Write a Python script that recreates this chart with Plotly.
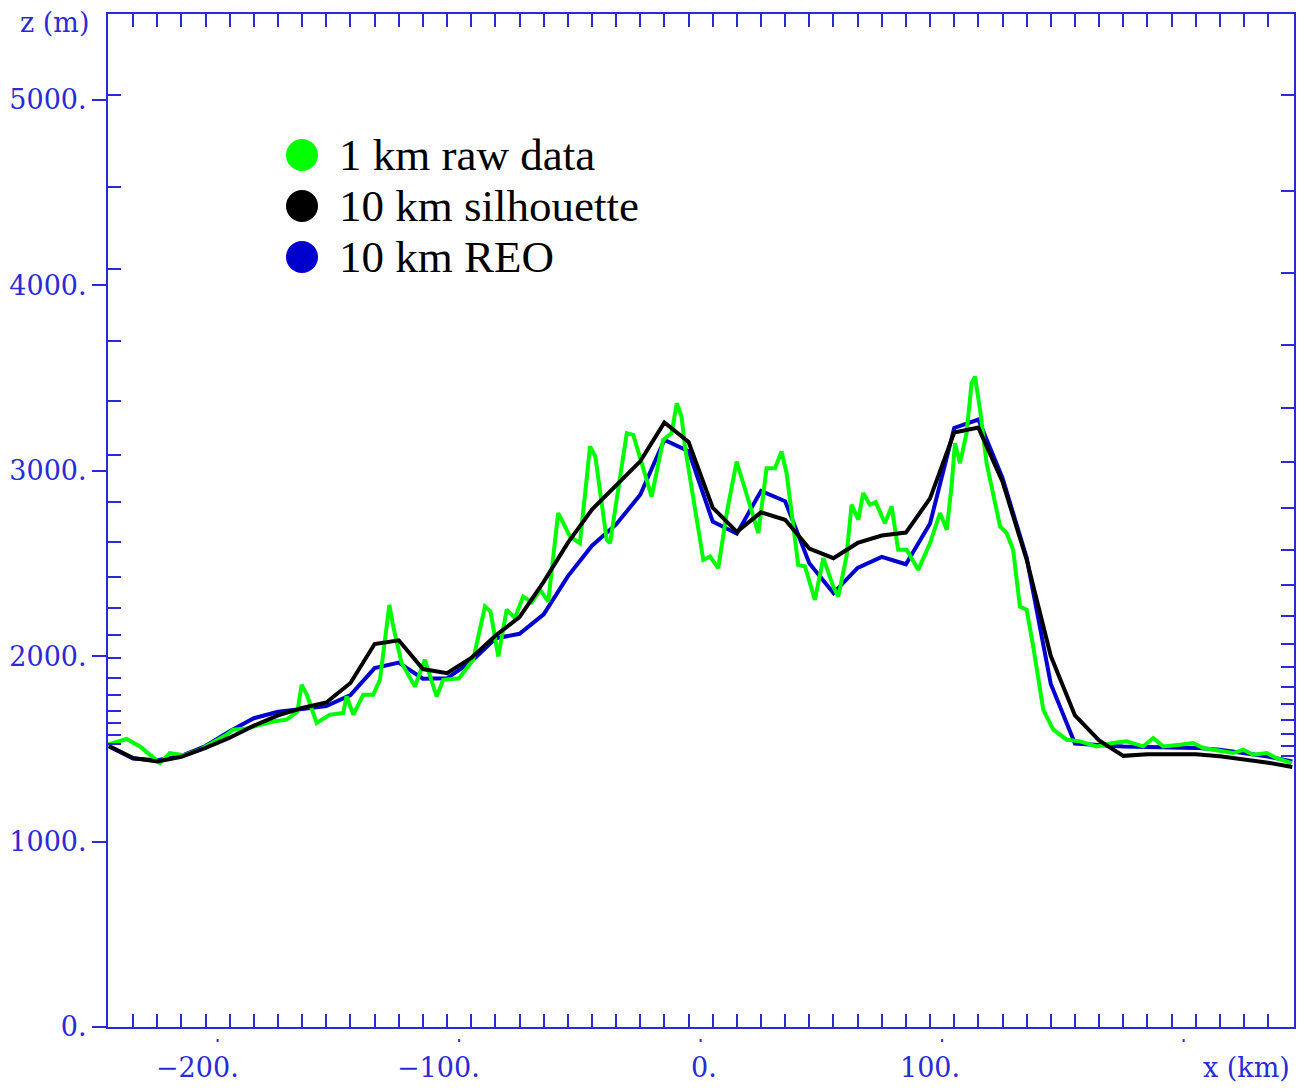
import plotly.graph_objects as go

# ---------------- data ----------------
# 10 km grid (cell centres, km)
x_10km = [-245, -235, -225, -215, -205, -195, -185, -175, -165, -155,
          -145, -135, -125, -115, -105, -95, -85, -75, -65, -55,
          -45, -35, -25, -15, -5, 5, 15, 25, 35, 45,
          55, 65, 75, 85, 95, 105, 115, 125, 135, 145,
          155, 165, 175, 185, 195, 205, 215, 225, 235, 245]

silhouette_z = [1515, 1450, 1432, 1457, 1505, 1560, 1625, 1680, 1720, 1750,
                1855, 2065, 2085, 1930, 1908, 1990, 2110, 2210, 2400, 2610,
                2790, 2920, 3050, 3260, 3155, 2800, 2670, 2775, 2735, 2580,
                2528, 2610, 2650, 2666, 2850, 3205, 3232, 2940, 2520, 2000,
                1680, 1545, 1462, 1470, 1470, 1470, 1460, 1445, 1425, 1402]

reo_z = [1513, 1448, 1438, 1462, 1515, 1595, 1665, 1700, 1715, 1730,
         1790, 1935, 1965, 1878, 1880, 1970, 2095, 2120, 2225, 2430,
         2595, 2710, 2870, 3165, 3105, 2725, 2660, 2890, 2835, 2500,
         2340, 2475, 2535, 2495, 2715, 3230, 3275, 2960, 2530, 1850,
         1528, 1520, 1513, 1510, 1507, 1505, 1495, 1478, 1458, 1432]

# 1 km raw data (at its turning points)
raw_x = [-245.7, -239.7, -237.7, -232.2, -223.9, -219.8, -214.0, -207.3, -196.3, -193.5,
         -188.0, -177.0, -171.4, -167.0, -165.2, -163.0, -159.0, -153.5, -148.0, -146.6,
         -143.8, -139.7, -135.6, -132.8, -128.9, -127.3, -123.8, -118.3, -114.2, -109.3,
         -106.6, -100.0, -94.2, -89.3, -87.0, -83.8, -80.3, -76.9, -73.5, -70.0,
         -66.5, -63.1, -59.0, -54.1, -50.0, -45.8, -43.6, -38.9, -37.5, -30.6,
         -27.9, -20.3, -15.5, -12.0, -9.9, -7.9, -6.5, 1.1, 3.9, 7.3,
         10.8, 14.9, 19.0, 23.9, 27.3, 30.8, 33.5, 35.6, 40.4, 43.2,
         47.3, 50.8, 54.9, 57.0, 60.4, 62.5, 65.3, 67.3, 70.1, 72.5,
         76.3, 79.1, 81.8, 85.3, 90.1, 95.0, 99.1, 101.9, 103.9, 105.3,
         107.4, 110.1, 112.2, 113.6, 115.7, 118.4, 124.0, 126.7, 129.4, 132.2,
         135.0, 137.7, 141.9, 146.0, 151.6, 157.1, 164.0, 170.8, 176.4, 183.3,
         187.4, 191.5, 198.5, 204.0, 208.1, 212.3, 220.5, 224.7, 228.8, 234.4,
         238.5, 244.7]
raw_z = [1522, 1549, 1553, 1513, 1423, 1477, 1465, 1495, 1576, 1603,
         1610, 1647, 1657, 1700, 1845, 1790, 1639, 1684, 1693, 1782,
         1684, 1791, 1791, 1872, 2276, 2160, 1962, 1836, 1980, 1782,
         1872, 1880, 1980, 2267, 2240, 1998, 2250, 2205, 2321, 2290,
         2357, 2294, 2771, 2645, 2609, 3130, 3076, 2627, 2609, 3202,
         3193, 2860, 3166, 3202, 3363, 3292, 3130, 2519, 2537, 2474,
         2771, 3049, 2870, 2663, 3013, 3013, 3103, 2986, 2492, 2483,
         2303, 2528, 2375, 2321, 2537, 2816, 2735, 2879, 2816, 2830,
         2717, 2806, 2573, 2573, 2465, 2609, 2771, 2681, 2914, 3148,
         3040, 3202, 3472, 3507, 3328, 3040, 2699, 2663, 2573, 2267,
         2250, 2052, 1710, 1603, 1549, 1540, 1513, 1531, 1540, 1513,
         1558, 1513, 1522, 1531, 1504, 1495, 1477, 1495, 1468, 1477,
         1450, 1423]

# terrain-following model levels marked on the left and right frame
left_levels = [5027, 4528, 4088, 3700, 3376, 3084, 2833, 2616, 2424, 2259,
               2115, 1989, 1881, 1791, 1704, 1641, 1572, 1525]
right_levels = [5027, 4510, 4068, 3680, 3340, 3049, 2798, 2573, 2381, 2214,
                2065, 1941, 1831, 1739, 1658, 1582, 1514, 1460]

x_tick_vals = [-235, -225, -215, -205, -195, -185, -175, -165, -155, -145,
               -135, -125, -115, -105, -95, -85, -75, -65, -55, -45,
               -35, -25, -15, -5, 5, 15, 25, 35, 45, 55,
               65, 75, 85, 95, 105, 115, 125, 135, 145, 155,
               165, 175, 185, 195, 205, 215, 225, 235]
x_label_vals = [-200, -100, 0, 100]
x_label_text = ["\u2212200.", "\u2212100.", "0.", "100."]
x_label_shift = [-20, -21, 3, -12]
x_dot_vals = [-200, -100, 0, 100, 200]
y_label_vals = [0, 1000, 2000, 3000, 4000, 5000]
y_label_text = ["0.", "1000.", "2000.", "3000.", "4000.", "5000."]

legend_names = ["1 km raw data", "10 km silhouette", "10 km REO"]
legend_colors = ["#00ff00", "#000000", "#0000cc"]

# ---------------- figure ----------------
W, H = 1301, 1090
L, R, T, B = 108, 7, 14, 63
PW, PH = W - L - R, H - T - B
AX = "#2a2ad8"
TICKFONT = dict(family="DejaVu Serif", size=27, color=AX)


def px_x(px):
    return (px - L) / PW


def px_y(py):
    return (H - B - py) / PH


fig = go.Figure()
fig.add_trace(go.Scatter(x=x_10km, y=reo_z, mode="lines", name=legend_names[2],
                         line=dict(color=legend_colors[2], width=4), showlegend=False))
fig.add_trace(go.Scatter(x=raw_x, y=raw_z, mode="lines", name=legend_names[0],
                         line=dict(color=legend_colors[0], width=4), showlegend=False))
fig.add_trace(go.Scatter(x=x_10km, y=silhouette_z, mode="lines", name=legend_names[1],
                         line=dict(color=legend_colors[1], width=4), showlegend=False))
# empty trace to attach the right-hand axis
fig.add_trace(go.Scatter(x=[None], y=[None], yaxis="y2",
                         showlegend=False, hoverinfo="skip"))

xr = [-245.4, 245.7]
yr = [0, 5462]

fig.update_layout(
    width=W, height=H,
    margin=dict(l=L, r=R, t=T, b=B, pad=0),
    paper_bgcolor="white", plot_bgcolor="white",
    showlegend=False,
    xaxis=dict(range=xr, showgrid=False, zeroline=False, showline=True,
               linecolor=AX, linewidth=2, mirror="ticks",
               tickmode="array", tickvals=x_tick_vals, ticks="inside",
               ticklen=13, tickwidth=2, tickcolor=AX, showticklabels=False),
    yaxis=dict(range=yr, showgrid=False, zeroline=False, showline=True,
               linecolor=AX, linewidth=2,
               tickmode="array", tickvals=y_label_vals, ticktext=y_label_text,
               ticks="outside", ticklen=14, tickwidth=2, tickcolor=AX,
               tickfont=TICKFONT,
               minor=dict(tickmode="array", tickvals=left_levels, ticks="inside",
                          ticklen=13, tickwidth=2, tickcolor=AX, showgrid=False)),
    yaxis2=dict(range=yr, overlaying="y", anchor="x", side="right",
                showgrid=False, zeroline=False, showline=True,
                linecolor=AX, linewidth=2,
                tickmode="array", tickvals=right_levels, ticks="inside",
                ticklen=13, tickwidth=2, tickcolor=AX, showticklabels=False),
)

# small dots under labelled x positions
for v in x_dot_vals:
    fig.add_shape(type="line", xref="x", yref="paper", x0=v, x1=v,
                  ysizemode="pixel", yanchor=0, y0=-12, y1=-15,
                  line=dict(color=AX, width=2))

# x tick labels
for v, t, s in zip(x_label_vals, x_label_text, x_label_shift):
    fig.add_annotation(text=t, xref="x", yref="paper", x=v, y=px_y(1067),
                       xshift=s, showarrow=False, xanchor="center", yanchor="middle",
                       font=TICKFONT)

# axis titles
fig.add_annotation(text="z (m)", xref="paper", yref="paper", x=px_x(54), y=px_y(22),
                   showarrow=False, xanchor="center", yanchor="middle", font=TICKFONT)
fig.add_annotation(text="x (km)", xref="paper", yref="paper", x=px_x(1246), y=px_y(1067),
                   showarrow=False, xanchor="center", yanchor="middle", font=TICKFONT)

# legend drawn as dots + text
for i, (name, col) in enumerate(zip(legend_names, legend_colors)):
    cy = px_y(155 + 51 * i)
    cx = px_x(302)
    fig.add_shape(type="circle", xref="paper", yref="paper",
                  xsizemode="pixel", ysizemode="pixel", xanchor=cx, yanchor=cy,
                  x0=-16, x1=16, y0=-16, y1=16,
                  fillcolor=col, line=dict(color=col, width=0))
    fig.add_annotation(text=name, xref="paper", yref="paper", x=px_x(337), y=cy,
                       showarrow=False, xanchor="left", yanchor="middle",
                       font=dict(family="Liberation Serif", size=45, color="black"))

fig.write_html("out.html")
